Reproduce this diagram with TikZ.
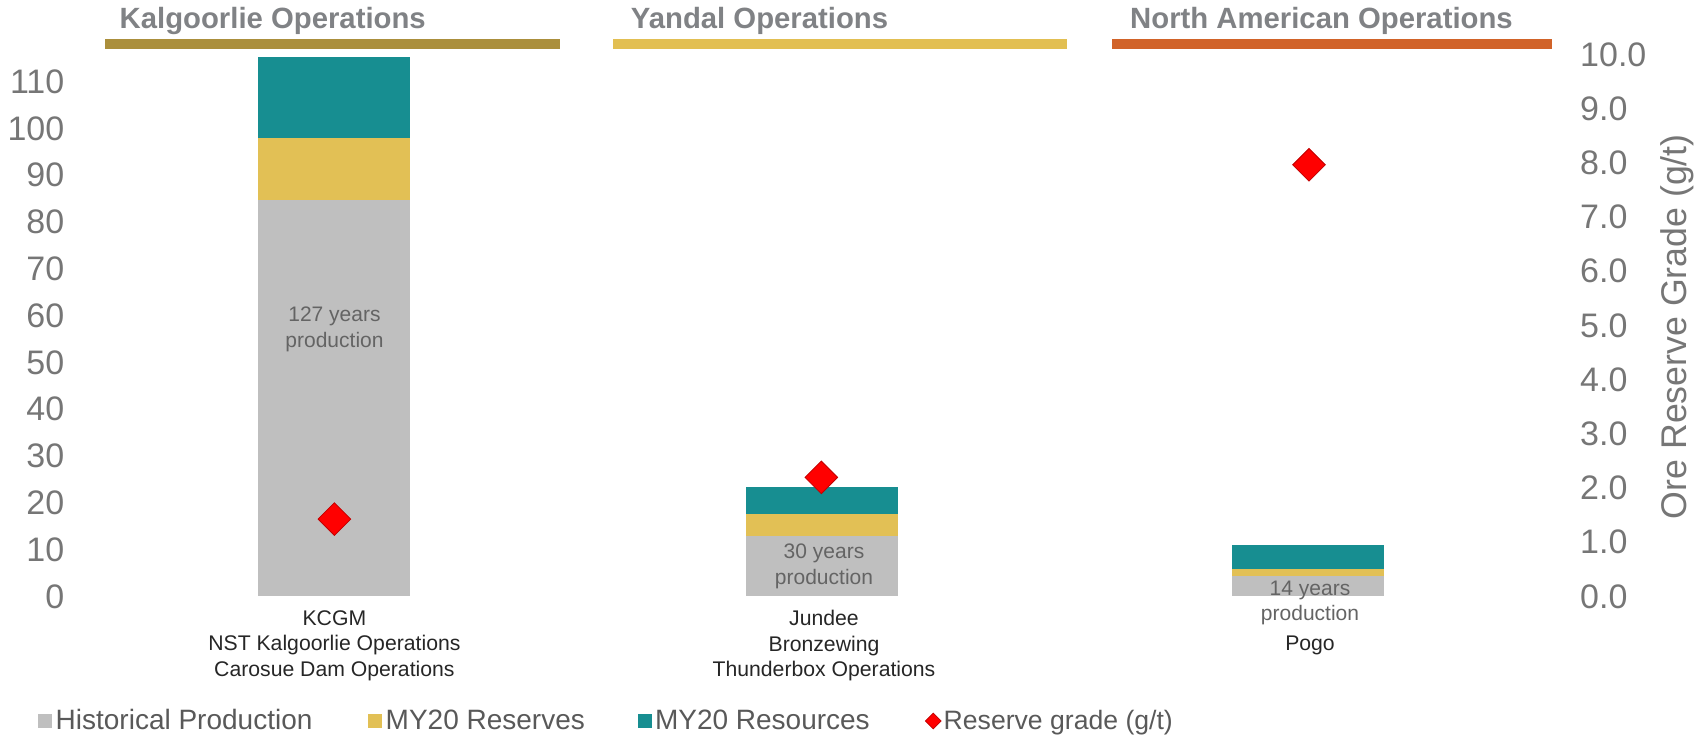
\documentclass[tikz,border=0pt]{standalone}
\usepackage{fontspec}
\setmainfont{Liberation Sans}
\usetikzlibrary{shapes.geometric}
\definecolor{histgrey}{HTML}{BFBFBF}
\definecolor{resyellow}{HTML}{E2C055}
\definecolor{resteal}{HTML}{178E91}
\definecolor{hdrgold}{HTML}{AB8F3C}
\definecolor{hdryellow}{HTML}{E2BF52}
\definecolor{hdrorange}{HTML}{D16329}
\definecolor{gradered}{HTML}{FF0000}
\definecolor{gradeedge}{HTML}{C00000}
\definecolor{titlegrey}{HTML}{808285}
\definecolor{axisgrey}{HTML}{767676}
\definecolor{leggrey}{HTML}{595959}
\definecolor{catdark}{HTML}{262626}
\definecolor{inbar}{HTML}{646464}
\newcommand\setfs[2]{\fontsize{#1}{#2}\selectfont}
\begin{document}
\begin{tikzpicture}[x=1pt,y=-1pt,
  hdrtitle/.style={anchor=base west,inner sep=0,text=titlegrey,font=\setfs{29.3}{34}\bfseries},
  lefttick/.style={anchor=base east,inner sep=0,text=axisgrey,font=\setfs{34}{40}},
  righttick/.style={anchor=base west,inner sep=0,text=axisgrey,font=\setfs{34}{40}},
  catlabel/.style={anchor=north,inner sep=0,align=center,text=catdark,font=\setfs{21.2}{25.5}},
  barlabel/.style={anchor=center,inner sep=0,align=center,text=inbar,font=\setfs{21}{25.5}},
  legtext/.style={anchor=base west,inner sep=0,text=leggrey,font=\setfs{28}{32}},
  grademark/.style={diamond,aspect=1,inner sep=0,minimum width=33,minimum height=33,fill=gradered,draw=gradeedge,line width=0.8pt},
  legmark/.style={diamond,aspect=1,inner sep=0,minimum width=16,minimum height=16,fill=gradered,draw=gradeedge,line width=0.6pt}]
\useasboundingbox (0,0) rectangle (1702,736);

% header bars and titles
\fill[hdrgold]   (105.3,39.1) rectangle (560.1,48.8);
\fill[hdryellow] (613.3,39.1) rectangle (1067.1,48.8);
\fill[hdrorange] (1111.6,39.1) rectangle (1552.3,48.8);
\node[hdrtitle] (tK) at (119.5,28.3) {Kalgoorlie Operations};
\node[hdrtitle] (tY) at (630.7,28.3) {Yandal Operations};
\node[hdrtitle] (tN) at (1130,28.3) {North American Operations};

% left axis ticks
\foreach \v in {0,10,...,110}{
  \node[lefttick] at (64.5,{596-4.678*\v+12}) {\v};
}
% right axis ticks
\foreach \g in {0,...,10}{
  \node[righttick] at (1580,{596-54.17*\g+12}) {\g.0};
}
\node[rotate=90,inner sep=0,text=axisgrey,font=\setfs{35.7}{40}] (rtitle) at (1677,326.7) {Ore Reserve Grade (g/t)};

% Kalgoorlie bar
\fill[histgrey]  (258.4,596) rectangle (410.3,{596-4.678*84.7});
\fill[resyellow] (258.4,{596-4.678*84.7}) rectangle (410.3,{596-4.678*97.9});
\fill[resteal]   (258.4,{596-4.678*97.9}) rectangle (410.3,{596-4.678*115.3});
% Yandal bar
\fill[histgrey]  (745.5,596) rectangle (897.5,{596-4.678*12.9});
\fill[resyellow] (745.5,{596-4.678*12.9}) rectangle (897.5,{596-4.678*17.6});
\fill[resteal]   (745.5,{596-4.678*17.6}) rectangle (897.5,{596-4.678*23.2});
% Pogo bar
\fill[histgrey]  (1232,596) rectangle (1384,{596-4.678*4.2});
\fill[resyellow] (1232,{596-4.678*4.2}) rectangle (1384,{596-4.678*5.8});
\fill[resteal]   (1232,{596-4.678*5.8}) rectangle (1384,{596-4.678*10.9});

% in-bar labels
\node[barlabel] (lK) at (334.5,329.5) {127 years\\production};
\node[barlabel] (lY) at (824,566.5) {30 years\\production};
\node[barlabel] (lP) at (1310,603) {14 years\\production};

% grade markers
\node[grademark] (gK) at (334.4,{596-54.17*1.42}) {};
\node[grademark] (gY) at (821.3,{596-54.17*2.19}) {};
\node[grademark] (gP) at (1309,{596-54.17*7.96}) {};

% category labels
\node[catlabel] (cK) at (334.4,610.2) {KCGM\\NST Kalgoorlie Operations\\Carosue Dam Operations};
\node[catlabel] (cY) at (824,610.2) {Jundee\\Bronzewing\\Thunderbox Operations};
\node[catlabel] (cP) at (1310,636.2) {Pogo};

% legend
\fill[histgrey]  (38,714) rectangle (52,728);
\node[legtext] (e1) at (55.5,729.5) {Historical Production};
\fill[resyellow] (368,714) rectangle (382,728);
\node[legtext] (e2) at (385.5,729.5) {MY20 Reserves};
\fill[resteal]   (638.3,714) rectangle (652.4,728);
\node[legtext] (e3) at (654.8,729.5) {MY20 Resources};
\node[legmark] (e4m) at (933.2,721) {};
\node[legtext,font=\setfs{26.6}{32}] (e4) at (943.5,729.5) {Reserve grade (g/t)};
\end{tikzpicture}
\end{document}
